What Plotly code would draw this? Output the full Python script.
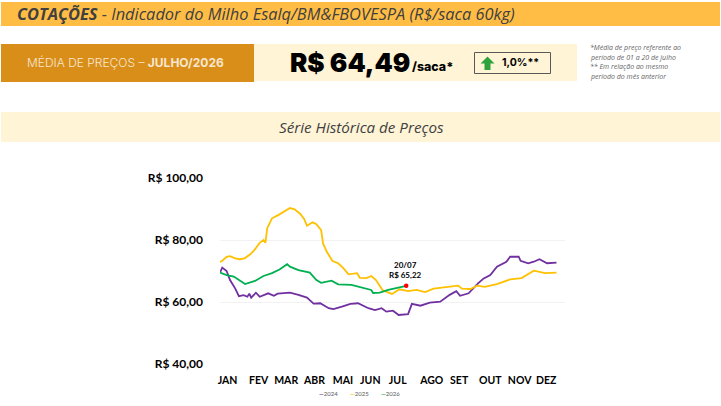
import plotly.graph_objects as go

W = 721
H = 406

months = ["JAN", "FEV", "MAR", "ABR", "MAI", "JUN", "JUL", "AGO", "SET", "OUT", "NOV", "DEZ"]
month_days = [8, 41, 70, 100, 130, 159, 188, 224, 253, 286, 317, 345]

y_ticks = [40, 60, 80, 100]
y_labels = ["R$ 40,00", "R$ 60,00", "R$ 80,00", "R$ 100,00"]

days_2024 = [0, 2.4, 7, 10.6, 16, 20, 25, 29, 31, 33, 38, 42, 51, 57, 61, 74, 83, 89, 92, 99, 106,
             115, 120, 129, 138, 146, 157, 164, 171, 176, 183, 189, 199, 203, 212, 222, 233, 243,
             250, 254, 263, 273, 279, 286, 293, 303, 307, 316, 318, 326, 332, 338, 346, 356]
prices_2024 = [69.5, 71.1, 70.0, 67.1, 64.4, 61.9, 62.2, 61.7, 62.7, 61.4, 63.0, 61.7, 62.8, 62.0, 62.7,
               63.0, 62.3, 61.6, 61.4, 59.5, 59.6, 58.0, 57.7, 58.5, 59.4, 59.6, 58.0, 57.4, 58.0, 56.9,
               57.2, 55.8, 56.1, 59.4, 58.8, 59.8, 60.1, 62.3, 63.5, 62.0, 62.8, 66.0, 67.6, 68.7, 71.4,
               73.0, 74.6, 74.6, 73.3, 72.5, 73.0, 73.8, 72.5, 72.7]

days_2025 = [0, 2.4, 7, 10.6, 16, 21, 26, 32, 37, 42, 46, 48, 50, 55, 62, 69, 74, 79, 85, 89, 92, 98,
             102, 107, 109, 113, 119, 125, 130, 136, 145, 148, 155, 160, 165, 172, 182, 190, 199, 208,
             217, 226, 243, 252, 256, 265, 272, 280, 293, 307, 319, 326, 332, 344, 356]
prices_2025 = [72.9, 73.3, 74.6, 74.8, 74.1, 73.8, 74.1, 75.4, 77.0, 79.1, 80.0, 79.1, 83.8, 87.0, 88.1,
               89.5, 90.3, 89.9, 88.4, 86.8, 84.6, 85.7, 85.1, 83.2, 78.9, 76.2, 73.2, 72.5, 71.1, 68.9,
               69.3, 67.8, 67.7, 68.4, 67.1, 63.8, 62.6, 64.1, 63.5, 63.9, 63.2, 64.3, 64.9, 65.3, 64.3,
               64.2, 65.3, 64.9, 65.8, 67.3, 67.7, 69.0, 70.1, 69.3, 69.5]

days_2026 = [0, 7, 14.6, 20, 26.5, 37, 46, 55, 63, 71, 74, 83, 95, 102, 107, 118, 125, 139, 152, 160,
             162, 169, 178, 197]
prices_2026 = [69.5, 68.7, 68.2, 67.1, 65.8, 66.8, 68.4, 69.3, 70.5, 72.2, 71.4, 70.3, 69.5, 67.1, 66.2,
               66.9, 65.7, 65.5, 64.4, 63.9, 62.9, 63.0, 63.9, 65.22]

last_day = [197]
last_price = [65.22]

PURPLE = "#7030A0"
YELLOW = "#FFC000"
GREEN = "#00B050"
DARK = "#404040"


# everything outside the plot is placed in pixels of the 721x406 page
def px(x):
    return x / W


def py(y):
    return 1 - y / H


def box(x0, y0, x1, y1, fill, line=None):
    return dict(type="rect", xref="paper", yref="paper", x0=px(x0), x1=px(x1), y0=py(y0), y1=py(y1),
                fillcolor=fill, line=dict(color=line or fill, width=1 if line else 0), layer="below")


def label(x, y, text, size, color=DARK, family="Open Sans", anchor="left", **font):
    return dict(xref="paper", yref="paper", x=px(x), y=py(y), text=text, showarrow=False,
                xanchor=anchor, yanchor="middle", align=anchor, borderpad=0,
                font=dict(family=family, size=size, color=color, **font))


fig = go.Figure()
fig.add_trace(go.Scatter(x=days_2024, y=prices_2024, mode="lines", name="2024", line=dict(color=PURPLE, width=1.8)))
fig.add_trace(go.Scatter(x=days_2025, y=prices_2025, mode="lines", name="2025", line=dict(color=YELLOW, width=1.8)))
fig.add_trace(go.Scatter(x=days_2026, y=prices_2026, mode="lines", name="2026", line=dict(color=GREEN, width=1.8)))
fig.add_trace(go.Scatter(x=last_day, y=last_price, mode="markers", marker=dict(color="#FF0000", size=4.5)))

shapes = [
    box(1, 2, 720, 26, "#FFBD45"),
    box(1, 44, 254, 82, "#D98E1A"),
    box(254, 44, 577, 81, "#FFF4D6"),
    box(1, 112, 720, 142, "#FFF4D6"),
    box(474.5, 52.5, 550.5, 73.5, "#FFF4D6", "#595959"),
    dict(type="path", xref="paper", yref="paper", fillcolor="#2EA33D", line=dict(width=0),
         path="M {} {} L {} {} L {} {} L {} {} L {} {} L {} {} L {} {} Z".format(
             px(487.5), py(56.5), px(494.5), py(63.5), px(490.5), py(63.5), px(490.5), py(70),
             px(484.5), py(70), px(484.5), py(63.5), px(480.5), py(63.5))),
]

annotations = [
    label(16, 14, "<b>COTAÇÕES</b> - Indicador do Milho Esalq/BM&FBOVESPA (R$/saca 60kg)", 16.4, style="italic"),
    label(26, 62, "MÉDIA DE PREÇOS – <b>JULHO/2026</b>", 12, color="#F7E7CF", family="Inter", weight=300),
    label(289, 62, "R$ 64,49", 26, color="#000000", family="Inter", weight=900),
    label(411, 66, "/saca*", 12.4, color="#000000", family="Inter", weight=800),
    label(501, 63, "1,0%**", 10.5, color="#000000", family="Inter", weight=700),
    label(589, 48, "*Média de preço referente ao", 7, color="#666666", style="italic"),
    label(589, 57.5, "período de 01 a 20 de julho", 7, color="#666666", style="italic"),
    label(589, 67, "** Em relação ao mesmo", 7, color="#666666", style="italic"),
    label(589, 76.5, "período do mês anterior", 7, color="#666666", style="italic"),
    label(361, 127, "Série Histórica de Preços", 15.2, anchor="center", style="italic"),
    label(405, 265, "20/07", 8, color="#000000", family="Lato", anchor="center", weight=700),
    label(405, 275, "R$ 65,22", 8, color="#000000", family="Lato", anchor="center", weight=700),
]
for x, year, color in [(319, "2024", PURPLE), (350, "2025", YELLOW), (381, "2026", GREEN)]:
    annotations.append(label(x - 1, 393, '<span style="color:%s"><b>—</b></span>%s' % (color, year), 6, color="#595959", family="Lato"))

fig.update_layout(
    width=W, height=H, margin=dict(l=0, r=0, t=0, b=0),
    paper_bgcolor="white", plot_bgcolor="white",
    showlegend=False, shapes=shapes, annotations=annotations,
    xaxis=dict(domain=[px(220), px(565)], range=[0, 365], tickmode="array", tickvals=month_days,
               ticktext=months, showgrid=False, zeroline=False, showline=False, ticks="",
               tickangle=0, ticklabelstandoff=8, automargin=False,
               tickfont=dict(family="Lato", size=10.5, color="#000000", weight=700)),
    yaxis=dict(domain=[py(364), py(178)], range=[40, 100], tickmode="array", tickvals=y_ticks,
               ticktext=y_labels, gridcolor="#F2F2F2", gridwidth=1, zeroline=False, showline=False,
               ticks="", ticklabelstandoff=16, automargin=False,
               tickfont=dict(family="Lato", size=12, color="#000000", weight=700)),
)

# the browser's default body margin would push the figure 8px in and clip it
fig.write_html("out.html", default_width="721px", default_height="406px",
               config={"displayModeBar": False},
               post_script="document.body.style.margin='0';document.body.style.overflow='hidden';")
